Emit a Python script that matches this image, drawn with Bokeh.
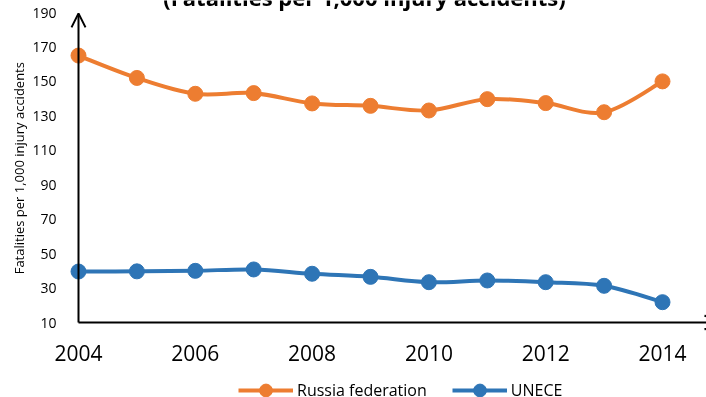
import math
from bokeh.plotting import figure
from bokeh.models import Range1d, FixedTicker, Arrow, OpenHead, Legend, LegendItem, Label, ColumnDataSource
from bokeh.embed import file_html
from bokeh.resources import INLINE

# ---- data ----
years = [2004, 2005, 2006, 2007, 2008, 2009, 2010, 2011, 2012, 2013, 2014]
russia = [165.0, 152.0, 142.8, 143.2, 137.2, 135.8, 133.1, 139.7, 137.4, 132.1, 150.0]
unece = [39.6, 39.7, 40.0, 40.8, 38.3, 36.5, 33.4, 34.4, 33.4, 31.3, 21.8]
series_names = ["Russia federation", "UNECE"]
x_ticks = [2004, 2006, 2008, 2010, 2012, 2014]
y_ticks = [10, 30, 50, 70, 90, 110, 130, 150, 170, 190]
title_text = "(Fatalities per 1,000 injury accidents)"
y_title = "Fatalities per 1,000 injury  accidents"

ORANGE = "#ED7D31"
BLUE = "#2E75B6"
FONT = "Open Sans"

# ---- layout (page pixel targets; canvas is shifted SHIFT px above page top) ----
SHIFT = 12
W = 706
px_per_year = 58.4
px_per_unit = 310 / 180
AXIS_X, AXIS_Y = 78, 322          # page position of the axes origin
FRAME_LEFT = 0
FRAME_TOP = 0
FRAME_BOTTOM = 410
frame_w = W - FRAME_LEFT
frame_h = FRAME_BOTTOM - FRAME_TOP

x_axis0, y_axis0 = years[0], y_ticks[0]
y_top = y_ticks[-1]
x0 = x_axis0 - (AXIS_X - FRAME_LEFT) / px_per_year
x1 = x0 + frame_w / px_per_year
y0 = y_axis0 - (FRAME_BOTTOM - AXIS_Y) / px_per_unit
y1 = y_top + (12 - FRAME_TOP) / px_per_unit

p = figure(frame_width=frame_w, frame_height=frame_h, output_backend="svg",
           toolbar_location=None,
           x_range=Range1d(x0, x1), y_range=Range1d(y0, y1),
           min_border_left=0, min_border_right=0,
           min_border_top=FRAME_TOP + SHIFT, min_border_bottom=0,
           outline_line_color=None)
p.styles = {"position": "fixed", "top": f"-{SHIFT}px", "left": "0px"}
p.xgrid.visible = False
p.ygrid.visible = False

for ax in (p.xaxis[0], p.yaxis[0]):
    ax.axis_line_color = None
    ax.major_tick_line_color = None
    ax.minor_tick_line_color = None
    ax.major_label_text_font = FONT
    ax.major_label_text_color = "#000000"

p.xaxis.ticker = FixedTicker(ticks=x_ticks)
p.xaxis.fixed_location = y_axis0
p.yaxis.ticker = FixedTicker(ticks=y_ticks)
p.yaxis.fixed_location = x_axis0
p.xaxis.major_label_text_font_size = "21px"
p.xaxis.major_label_standoff = 16
p.yaxis.major_label_text_font_size = "14px"
p.yaxis.major_label_standoff = 16

# y-axis title as a rotated label beside the axis
p.add_layout(Label(x=x_axis0 - (AXIS_X - 18) / px_per_year,
                   y=y_axis0 + (AXIS_Y - 166) / px_per_unit,
                   text=y_title, angle=math.pi / 2, text_align="center",
                   text_baseline="middle", text_font=FONT,
                   text_font_size="13px", text_color="#000000"))


def smooth(xs, ys):
    n = len(xs)
    d = dict(x0=[], y0=[], x1=[], y1=[], cx0=[], cy0=[], cx1=[], cy1=[])
    for i in range(n - 1):
        pm = max(i - 1, 0)
        pp = min(i + 2, n - 1)
        d["x0"].append(xs[i]); d["y0"].append(ys[i])
        d["x1"].append(xs[i + 1]); d["y1"].append(ys[i + 1])
        d["cx0"].append(xs[i] + (xs[i + 1] - xs[pm]) / 6)
        d["cy0"].append(ys[i] + (ys[i + 1] - ys[pm]) / 6)
        d["cx1"].append(xs[i + 1] - (xs[pp] - xs[i]) / 6)
        d["cy1"].append(ys[i + 1] - (ys[pp] - ys[i]) / 6)
    return ColumnDataSource(d)


# axes with arrows
p.add_layout(Arrow(end=OpenHead(size=14, line_width=2, line_color="black"),
                   x_start=x_axis0, y_start=y_axis0, x_end=x_axis0,
                   y_end=y_top - 0.5, line_width=2, line_color="black"))
p.add_layout(Arrow(end=OpenHead(size=14, line_width=2, line_color="black"),
                   x_start=x_axis0, y_start=y_axis0,
                   x_end=x1 + 12 / px_per_year, y_end=y_axis0,
                   line_width=2, line_color="black"))

items = []
for name, vals, col in zip(series_names, [russia, unece], [ORANGE, BLUE]):
    br = p.bezier(x0="x0", y0="y0", x1="x1", y1="y1", cx0="cx0", cy0="cy0",
                  cx1="cx1", cy1="cy1", source=smooth(years, vals),
                  line_color=col, line_width=4)
    sr = p.scatter(years, vals, size=15, fill_color=col, line_color=col)
    items.append(LegendItem(label=name, renderers=[br, sr]))

legend = Legend(items=items, orientation="horizontal",
                location=(238 - FRAME_LEFT, FRAME_BOTTOM - 406),
                glyph_width=55, glyph_height=32, label_standoff=4, spacing=25,
                padding=0, margin=0, border_line_color=None,
                background_fill_alpha=0, label_text_font=FONT,
                label_text_font_size="16px", label_text_color="#000000")
p.add_layout(legend)

title_x = x_axis0 + (364 - AXIS_X) / px_per_year
title_y = y_top + (12 - (-4)) / px_per_unit
p.add_layout(Label(x=title_x, y=title_y, text=title_text, text_align="center",
                   text_baseline="alphabetic", text_font=FONT,
                   text_font_style="bold", text_font_size="22px",
                   text_color="#000000"))

open("out.html", "w").write(file_html(p, INLINE))
